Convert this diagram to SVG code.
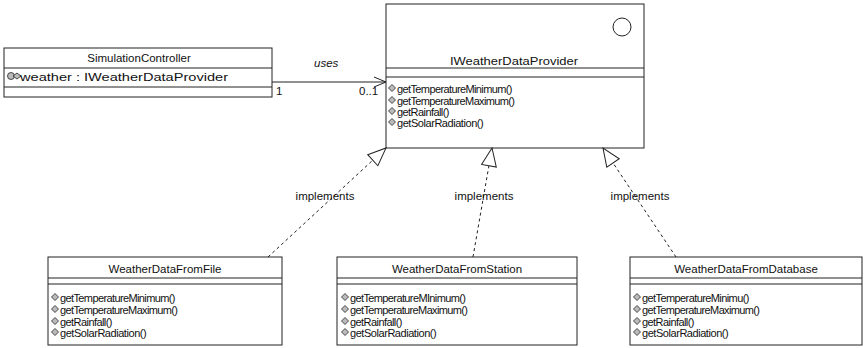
<svg xmlns="http://www.w3.org/2000/svg" width="867" height="348" viewBox="0 0 867 348">
<style>
.box{fill:#fff;stroke:#222;stroke-width:1}
.div{stroke:#222;stroke-width:1}
.t{font-family:"Liberation Sans",Arial,sans-serif;font-size:11.5px;fill:#111}
.m{font-family:"Liberation Sans",Arial,sans-serif;font-size:11px;fill:#111}
.c{text-anchor:middle}
.edge{fill:none;stroke:#222;stroke-width:1}
.dash{stroke-dasharray:3,3}
.ic{fill:#bbb;stroke:#222;stroke-width:0.8}
</style>
<defs>
<marker id="tri" markerUnits="userSpaceOnUse" markerWidth="22" markerHeight="18" refX="19" refY="8.5" orient="auto">
<path d="M1,1 L19,8.5 L1,16 Z" fill="#fff" stroke="#222" stroke-width="1"/>
</marker>
<marker id="open" markerUnits="userSpaceOnUse" markerWidth="14" markerHeight="12" refX="13" refY="6" orient="auto">
<path d="M1,1 L13,6 L1,11" fill="none" stroke="#222" stroke-width="1"/>
</marker>
<g id="mi"><path d="M0,-3.5 L3.5,0 L0,3.5 L-3.5,0 Z" class="ic"/></g>
</defs>
<rect width="867" height="348" fill="#fff"/>

<g id="SimulationController">
<rect class="box" x="4" y="48" width="268" height="49"/>
<line class="div" x1="4" y1="68" x2="272" y2="68"/>
<line class="div" x1="4" y1="87" x2="272" y2="87"/>
<text class="t c" x="139" y="62">SimulationController</text>
<g transform="translate(11,76)"><circle r="3.5" class="ic"/><path d="M2,0 L6,-3 L10,0 L6,3 Z" class="ic"/></g>
<text class="t" x="20" y="81" font-size="12.5" textLength="208" lengthAdjust="spacingAndGlyphs">weather : IWeatherDataProvider</text>
</g>

<g id="IWeatherDataProvider">
<rect class="box" x="386" y="4" width="258" height="144"/>
<circle cx="622" cy="27" r="9" fill="#fff" stroke="#222"/>
<text class="t c" x="514" y="65" font-size="12.5" textLength="128" lengthAdjust="spacingAndGlyphs">IWeatherDataProvider</text>
<line class="div" x1="386" y1="68" x2="644" y2="68"/>
<line class="div" x1="386" y1="77" x2="644" y2="77"/>
<use href="#mi" x="392" y="88"/><text class="m" x="397" y="93" textLength="115.5">getTemperatureMinimum()</text>
<use href="#mi" x="392" y="100"/><text class="m" x="397" y="105" textLength="118">getTemperatureMaximum()</text>
<use href="#mi" x="392" y="111"/><text class="m" x="397" y="116" textLength="52.5">getRainfall()</text>
<use href="#mi" x="392" y="122"/><text class="m" x="397" y="127" textLength="86.7">getSolarRadiation()</text>
</g>

<g id="WeatherDataFromFile">
<rect class="box" x="48" y="257" width="234" height="88"/>
<text class="t c" x="165" y="273">WeatherDataFromFile</text>
<line class="div" x1="48" y1="278" x2="282" y2="278"/>
<line class="div" x1="48" y1="284" x2="282" y2="284"/>
<use href="#mi" x="55" y="297"/><text class="m" x="60" y="302" textLength="115.5">getTemperatureMinimum()</text>
<use href="#mi" x="55" y="309"/><text class="m" x="60" y="314" textLength="118">getTemperatureMaximum()</text>
<use href="#mi" x="55" y="321"/><text class="m" x="60" y="326" textLength="52.5">getRainfall()</text>
<use href="#mi" x="55" y="332"/><text class="m" x="60" y="337" textLength="86.7">getSolarRadiation()</text>
</g>

<g id="WeatherDataFromStation">
<rect class="box" x="337" y="257" width="240" height="88"/>
<text class="t c" x="457" y="273">WeatherDataFromStation</text>
<line class="div" x1="337" y1="278" x2="577" y2="278"/>
<line class="div" x1="337" y1="284" x2="577" y2="284"/>
<use href="#mi" x="345" y="297"/><text class="m" x="350" y="302" textLength="116">getTemperatureMInimum()</text>
<use href="#mi" x="345" y="309"/><text class="m" x="350" y="314" textLength="118">getTemperatureMaximum()</text>
<use href="#mi" x="345" y="321"/><text class="m" x="350" y="326" textLength="52.5">getRainfall()</text>
<use href="#mi" x="345" y="332"/><text class="m" x="350" y="337" textLength="86.7">getSolarRadiation()</text>
</g>

<g id="WeatherDataFromDatabase">
<rect class="box" x="630" y="257" width="232" height="88"/>
<text class="t c" x="746" y="273">WeatherDataFromDatabase</text>
<line class="div" x1="630" y1="278" x2="862" y2="278"/>
<line class="div" x1="630" y1="284" x2="862" y2="284"/>
<use href="#mi" x="637" y="297"/><text class="m" x="642" y="302" textLength="107.4">getTemperatureMinimu()</text>
<use href="#mi" x="637" y="309"/><text class="m" x="642" y="314" textLength="118">getTemperatureMaximum()</text>
<use href="#mi" x="637" y="321"/><text class="m" x="642" y="326" textLength="52.5">getRainfall()</text>
<use href="#mi" x="637" y="332"/><text class="m" x="642" y="337" textLength="86.7">getSolarRadiation()</text>
</g>

<g id="connectors">
<line class="edge" x1="272" y1="82" x2="386" y2="82" marker-end="url(#open)"/>
<text class="t" x="314" y="67" font-style="italic" font-size="12">uses</text>
<text class="t" x="276" y="95">1</text>
<text class="t" x="359" y="95">0..1</text>
<line class="edge dash" x1="268" y1="257" x2="386" y2="148" marker-end="url(#tri)"/>
<line class="edge dash" x1="473" y1="257" x2="492" y2="148" marker-end="url(#tri)"/>
<line class="edge dash" x1="676" y1="257" x2="603" y2="148" marker-end="url(#tri)"/>
<text class="t c" x="325" y="200">implements</text>
<text class="t c" x="484" y="200">implements</text>
<text class="t c" x="640" y="200">implements</text>
</g>
</svg>
